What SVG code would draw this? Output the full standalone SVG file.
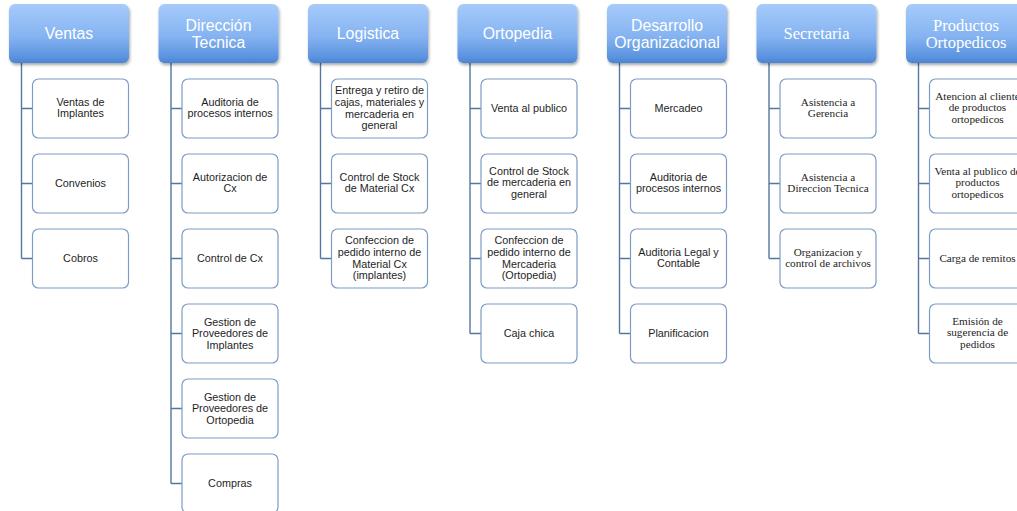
<svg xmlns="http://www.w3.org/2000/svg" width="1017" height="511" viewBox="0 0 1017 511">
  <defs>
    <linearGradient id="hdrFill" x1="0" y1="0" x2="0" y2="1">
      <stop offset="0" stop-color="#a6cbfb"/>
      <stop offset="0.55" stop-color="#85b3f1"/>
      <stop offset="0.9" stop-color="#5b93df"/>
      <stop offset="1" stop-color="#4a84d4"/>
    </linearGradient>
    <filter id="hdrShadow" x="-10%" y="-10%" width="125%" height="130%">
      <feGaussianBlur in="SourceAlpha" stdDeviation="1.6"/>
      <feOffset dx="0.5" dy="1.8" result="b"/>
      <feComponentTransfer><feFuncA type="linear" slope="0.35"/></feComponentTransfer>
      <feMerge><feMergeNode/><feMergeNode in="SourceGraphic"/></feMerge>
    </filter>
  </defs>
  <style>
    .hdr { fill: url(#hdrFill); filter: url(#hdrShadow); }
    .hdr-t { fill: #ffffff; font-family: "Liberation Sans", Arial, sans-serif; font-size: 15.8px; text-anchor: middle; }
    .hdr-s { fill: #ffffff; font-family: "Liberation Serif", "Times New Roman", serif; font-size: 16.5px; text-anchor: middle; }
    .box { fill: #ffffff; stroke: #7d9cc4; stroke-width: 1.2; }
    .box-t { fill: #1e1e1e; font-family: "Liberation Sans", Arial, sans-serif; font-size: 10.8px; text-anchor: middle; }
    .box-s { fill: #1e1e1e; font-family: "Liberation Serif", "Times New Roman", serif; font-size: 11.2px; text-anchor: middle; }
    .link { fill: none; stroke: #55779f; stroke-width: 1.4; }
  </style>

  <rect width="1017" height="511" fill="#ffffff"/>

  <!-- connectors: one trunk per column, one tick per task -->
  <g id="connectors" class="link">
    <path d="M21.5 63 V258.5 M21.5 108.5 H32.5 M21.5 183.5 H32.5 M21.5 258.5 H32.5"/>
    <path d="M171 63 V483.5 M171 108.5 H182 M171 183.5 H182 M171 258.5 H182 M171 333.5 H182 M171 408.5 H182 M171 483.5 H182"/>
    <path d="M320.5 63 V258.5 M320.5 108.5 H331.5 M320.5 183.5 H331.5 M320.5 258.5 H331.5"/>
    <path d="M470 63 V333.5 M470 108.5 H481 M470 183.5 H481 M470 258.5 H481 M470 333.5 H481"/>
    <path d="M619.5 63 V333.5 M619.5 108.5 H630.5 M619.5 183.5 H630.5 M619.5 258.5 H630.5 M619.5 333.5 H630.5"/>
    <path d="M769 63 V258.5 M769 108.5 H780 M769 183.5 H780 M769 258.5 H780"/>
    <path d="M918.5 63 V333.5 M918.5 108.5 H929.5 M918.5 183.5 H929.5 M918.5 258.5 H929.5 M918.5 333.5 H929.5"/>
  </g>

  <!-- Ventas -->
  <g id="hdr-ventas"><rect class="hdr" x="9" y="4" width="120" height="59" rx="6"/><text class="hdr-t" x="69" y="39">Ventas</text></g>
  <g id="ventas-implantes"><rect class="box" x="32.5" y="79" width="96" height="59" rx="6"/><text class="box-t" x="80.5" y="105.5"><tspan x="80.5">Ventas de</tspan><tspan x="80.5" dy="11.8">Implantes</tspan></text></g>
  <g id="ventas-convenios"><rect class="box" x="32.5" y="154" width="96" height="59" rx="6"/><text class="box-t" x="80.5" y="187.3">Convenios</text></g>
  <g id="ventas-cobros"><rect class="box" x="32.5" y="229" width="96" height="59" rx="6"/><text class="box-t" x="80.5" y="262.3">Cobros</text></g>

  <!-- Dirección Tecnica -->
  <g id="hdr-direccion"><rect class="hdr" x="158.5" y="4" width="120" height="59" rx="6"/><text class="hdr-t" x="218.5" y="30.5"><tspan x="218.5">Dirección</tspan><tspan x="218.5" dy="17">Tecnica</tspan></text></g>
  <g id="dt-auditoria"><rect class="box" x="182" y="79" width="96" height="59" rx="6"/><text class="box-t" x="230" y="105.5"><tspan x="230">Auditoria de</tspan><tspan x="230" dy="11.8">procesos internos</tspan></text></g>
  <g id="dt-autorizacion"><rect class="box" x="182" y="154" width="96" height="59" rx="6"/><text class="box-t" x="230" y="180.5"><tspan x="230">Autorizacion de</tspan><tspan x="230" dy="11.8">Cx</tspan></text></g>
  <g id="dt-control"><rect class="box" x="182" y="229" width="96" height="59" rx="6"/><text class="box-t" x="230" y="262.3">Control de Cx</text></g>
  <g id="dt-prov-implantes"><rect class="box" x="182" y="304" width="96" height="59" rx="6"/><text class="box-t" x="230" y="325.5"><tspan x="230">Gestion de</tspan><tspan x="230" dy="11.8">Proveedores de</tspan><tspan x="230" dy="11.8">Implantes</tspan></text></g>
  <g id="dt-prov-ortopedia"><rect class="box" x="182" y="379" width="96" height="59" rx="6"/><text class="box-t" x="230" y="400.5"><tspan x="230">Gestion de</tspan><tspan x="230" dy="11.8">Proveedores de</tspan><tspan x="230" dy="11.8">Ortopedia</tspan></text></g>
  <g id="dt-compras"><rect class="box" x="182" y="454" width="96" height="59" rx="6"/><text class="box-t" x="230" y="487.3">Compras</text></g>

  <!-- Logistica -->
  <g id="hdr-logistica"><rect class="hdr" x="308" y="4" width="120" height="59" rx="6"/><text class="hdr-t" x="368" y="39">Logistica</text></g>
  <g id="log-entrega"><rect class="box" x="331.5" y="79" width="96" height="59" rx="6"/><text class="box-t" x="379.5" y="94"><tspan x="379.5">Entrega y retiro de</tspan><tspan x="379.5" dy="11.8">cajas, materiales y</tspan><tspan x="379.5" dy="11.8">mercaderia en</tspan><tspan x="379.5" dy="11.8">general</tspan></text></g>
  <g id="log-stock"><rect class="box" x="331.5" y="154" width="96" height="59" rx="6"/><text class="box-t" x="379.5" y="180.5"><tspan x="379.5">Control de Stock</tspan><tspan x="379.5" dy="11.8">de Material Cx</tspan></text></g>
  <g id="log-pedido"><rect class="box" x="331.5" y="229" width="96" height="59" rx="6"/><text class="box-t" x="379.5" y="244"><tspan x="379.5">Confeccion de</tspan><tspan x="379.5" dy="11.8">pedido interno de</tspan><tspan x="379.5" dy="11.8">Material Cx</tspan><tspan x="379.5" dy="11.8">(implantes)</tspan></text></g>

  <!-- Ortopedia -->
  <g id="hdr-ortopedia"><rect class="hdr" x="457.5" y="4" width="120" height="59" rx="6"/><text class="hdr-t" x="517.5" y="39">Ortopedia</text></g>
  <g id="ort-venta"><rect class="box" x="481" y="79" width="96" height="59" rx="6"/><text class="box-t" x="529" y="112.3">Venta al publico</text></g>
  <g id="ort-stock"><rect class="box" x="481" y="154" width="96" height="59" rx="6"/><text class="box-t" x="529" y="174.6"><tspan x="529">Control de Stock</tspan><tspan x="529" dy="11.8">de mercaderia en</tspan><tspan x="529" dy="11.8">general</tspan></text></g>
  <g id="ort-pedido"><rect class="box" x="481" y="229" width="96" height="59" rx="6"/><text class="box-t" x="529" y="244"><tspan x="529">Confeccion de</tspan><tspan x="529" dy="11.8">pedido interno de</tspan><tspan x="529" dy="11.8">Mercaderia</tspan><tspan x="529" dy="11.8">(Ortopedia)</tspan></text></g>
  <g id="ort-caja"><rect class="box" x="481" y="304" width="96" height="59" rx="6"/><text class="box-t" x="529" y="337.3">Caja chica</text></g>

  <!-- Desarrollo Organizacional -->
  <g id="hdr-desarrollo"><rect class="hdr" x="607" y="4" width="120" height="59" rx="6"/><text class="hdr-t" x="667" y="30.5"><tspan x="667">Desarrollo</tspan><tspan x="667" dy="17">Organizacional</tspan></text></g>
  <g id="do-mercadeo"><rect class="box" x="630.5" y="79" width="96" height="59" rx="6"/><text class="box-t" x="678.5" y="112.3">Mercadeo</text></g>
  <g id="do-auditoria"><rect class="box" x="630.5" y="154" width="96" height="59" rx="6"/><text class="box-t" x="678.5" y="180.5"><tspan x="678.5">Auditoria de</tspan><tspan x="678.5" dy="11.8">procesos internos</tspan></text></g>
  <g id="do-legal"><rect class="box" x="630.5" y="229" width="96" height="59" rx="6"/><text class="box-t" x="678.5" y="255.5"><tspan x="678.5">Auditoria Legal y</tspan><tspan x="678.5" dy="11.8">Contable</tspan></text></g>
  <g id="do-planificacion"><rect class="box" x="630.5" y="304" width="96" height="59" rx="6"/><text class="box-t" x="678.5" y="337.3">Planificacion</text></g>

  <!-- Secretaria -->
  <g id="hdr-secretaria"><rect class="hdr" x="756.5" y="4" width="120" height="59" rx="6"/><text class="hdr-s" x="816.5" y="39">Secretaria</text></g>
  <g id="sec-gerencia"><rect class="box" x="780" y="79" width="96" height="59" rx="6"/><text class="box-s" x="828" y="105.5"><tspan x="828">Asistencia a</tspan><tspan x="828" dy="11.8">Gerencia</tspan></text></g>
  <g id="sec-direccion"><rect class="box" x="780" y="154" width="96" height="59" rx="6"/><text class="box-s" x="828" y="180.5"><tspan x="828">Asistencia a</tspan><tspan x="828" dy="11.8">Direccion Tecnica</tspan></text></g>
  <g id="sec-archivos"><rect class="box" x="780" y="229" width="96" height="59" rx="6"/><text class="box-s" x="828" y="255.5"><tspan x="828">Organizacion y</tspan><tspan x="828" dy="11.8">control de archivos</tspan></text></g>

  <!-- Productos Ortopedicos -->
  <g id="hdr-productos"><rect class="hdr" x="906" y="4" width="120" height="59" rx="6"/><text class="hdr-s" x="966" y="30.5"><tspan x="966">Productos</tspan><tspan x="966" dy="17">Ortopedicos</tspan></text></g>
  <g id="po-atencion"><rect class="box" x="929.5" y="79" width="96" height="59" rx="6"/><text class="box-s" x="977.5" y="99.6"><tspan x="977.5">Atencion al cliente</tspan><tspan x="977.5" dy="11.8">de productos</tspan><tspan x="977.5" dy="11.8">ortopedicos</tspan></text></g>
  <g id="po-venta"><rect class="box" x="929.5" y="154" width="96" height="59" rx="6"/><text class="box-s" x="977.5" y="174.6"><tspan x="977.5">Venta al publico de</tspan><tspan x="977.5" dy="11.8">productos</tspan><tspan x="977.5" dy="11.8">ortopedicos</tspan></text></g>
  <g id="po-remitos"><rect class="box" x="929.5" y="229" width="96" height="59" rx="6"/><text class="box-s" x="977.5" y="262.3">Carga de remitos</text></g>
  <g id="po-sugerencia"><rect class="box" x="929.5" y="304" width="96" height="59" rx="6"/><text class="box-s" x="977.5" y="324.6"><tspan x="977.5">Emisión de</tspan><tspan x="977.5" dy="11.8">sugerencia de</tspan><tspan x="977.5" dy="11.8">pedidos</tspan></text></g>
</svg>
